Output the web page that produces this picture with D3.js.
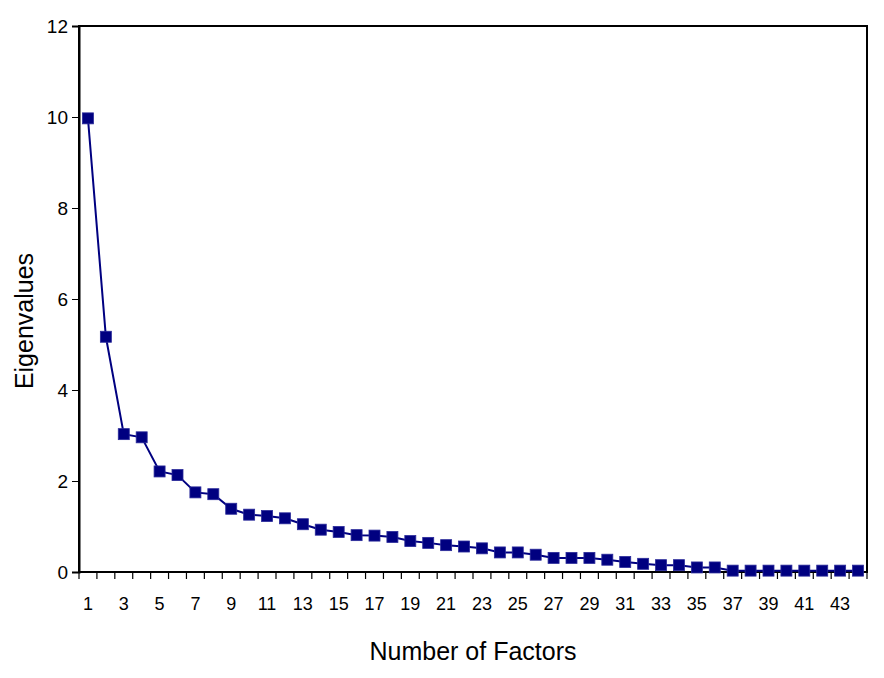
<!DOCTYPE html>
<html>
<head>
<meta charset="utf-8">
<script src="https://cdn.jsdelivr.net/npm/d3@7"></script>
<style>
  body { margin: 0; background: #fff; }
  text { font-family: "Liberation Sans", Arial, sans-serif; fill: #000; }
</style>
</head>
<body>
<svg id="chart"></svg>
<script>
// factor number 1..44 and its eigenvalue
const factors = d3.range(1, 45);
const eigenvalues = [
  9.97, 5.17, 3.03, 2.96, 2.21, 2.13, 1.75, 1.71, 1.39, 1.26,
  1.23, 1.18, 1.05, 0.93, 0.88, 0.81, 0.80, 0.77, 0.68, 0.64,
  0.59, 0.56, 0.52, 0.43, 0.43, 0.38, 0.31, 0.31, 0.31, 0.27,
  0.22, 0.18, 0.15, 0.15, 0.10, 0.10, 0.03, 0.03, 0.03, 0.03,
  0.03, 0.03, 0.03, 0.03
];
const yTicks = [0, 2, 4, 6, 8, 10, 12];
const xLabels = factors.filter((d) => d % 2 === 1);

const data = factors.map((f, i) => ({ factor: f, value: eigenvalues[i] }));

const width = 884, height = 678;
const margin = { top: 26, right: 17, bottom: 106, left: 79 };
const innerW = width - margin.left - margin.right;
const innerH = height - margin.top - margin.bottom;

const svg = d3.select("#chart").attr("width", width).attr("height", height);
const chart = svg.append("g")
  .attr("transform", `translate(${margin.left},${margin.top})`);

const xScale = d3.scaleBand().domain(factors).range([0, innerW]);
const yScale = d3.scaleLinear().domain([0, 12]).range([innerH, 0]);

// plot frame (top and right edges)
chart.append("rect")
  .attr("width", innerW).attr("height", innerH)
  .attr("fill", "none").attr("stroke", "#000").attr("stroke-width", 2);

// y axis
const yAxis = d3.axisLeft(yScale).tickValues(yTicks).tickSize(7).tickPadding(4);
const yAxisGroup = chart.append("g").call(yAxis);
yAxisGroup.select(".domain").attr("stroke-width", 2);
yAxisGroup.selectAll("text").style("font-size", "19px");

// x axis: tick marks on category boundaries, labels on odd factors
const xAxisGroup = chart.append("g").attr("transform", `translate(0,${innerH})`);
xAxisGroup.append("line")
  .attr("x1", 0).attr("x2", innerW)
  .attr("stroke", "#000").attr("stroke-width", 2);
xAxisGroup.selectAll(".tick-mark")
  .data(factors.concat([45]))
  .join("line")
  .attr("class", "tick-mark")
  .attr("x1", (d) => (d === 45 ? innerW : xScale(d)))
  .attr("x2", (d) => (d === 45 ? innerW : xScale(d)))
  .attr("y1", 0).attr("y2", 7)
  .attr("stroke", "#000").attr("stroke-width", 1.2);
xAxisGroup.selectAll(".x-label")
  .data(xLabels)
  .join("text")
  .attr("class", "x-label")
  .attr("x", (d) => xScale(d) + xScale.bandwidth() / 2)
  .attr("y", 38)
  .attr("text-anchor", "middle")
  .style("font-size", "18px")
  .text((d) => d);

// line + square markers
const line = d3.line()
  .x((d) => xScale(d.factor) + xScale.bandwidth() / 2)
  .y((d) => yScale(d.value));

chart.append("path")
  .datum(data)
  .attr("fill", "none")
  .attr("stroke", "#000080")
  .attr("stroke-width", 2)
  .attr("d", line);

const size = 11;
chart.selectAll(".marker")
  .data(data)
  .join("rect")
  .attr("class", "marker")
  .attr("x", (d) => xScale(d.factor) + xScale.bandwidth() / 2 - size / 2)
  .attr("y", (d) => yScale(d.value) - size / 2)
  .attr("width", size).attr("height", size)
  .attr("fill", "#000080")
  .attr("stroke", "#2a2a9a").attr("stroke-width", 0.8);

// axis titles
svg.append("text")
  .attr("x", margin.left + innerW / 2)
  .attr("y", 660)
  .attr("text-anchor", "middle")
  .style("font-size", "25px")
  .text("Number of Factors");

svg.append("text")
  .attr("transform", `translate(33,${margin.top + innerH / 2 + 22}) rotate(-90)`)
  .attr("text-anchor", "middle")
  .style("font-size", "25px")
  .text("Eigenvalues");
</script>
</body>
</html>
